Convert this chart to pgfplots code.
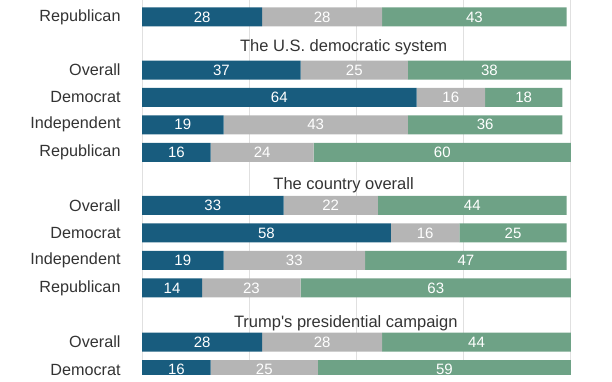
\documentclass[border=0pt]{standalone}
\usepackage{pgfplots}
\pgfplotsset{compat=1.18}
\usepackage{fontspec}
\setmainfont{Liberation Sans}
\definecolor{cblue}{HTML}{185C7E}
\definecolor{cgray}{HTML}{B5B5B5}
\definecolor{cgreen}{HTML}{6EA286}
\definecolor{gridgray}{HTML}{E0E0E0}
\definecolor{txt}{HTML}{333333}
\pgfplotsset{base/.style={
  scale only axis, width=612pt, height=374pt,
  xmin=-33.1, xmax=109.56, ymin=0, ymax=374, y dir=reverse,
  clip bounding box=upper bound,
  axis line style={draw=none},
  major tick length=0pt,
}}
\begin{document}
\begin{tikzpicture}
\begin{axis}[base,
  xbar stacked, bar width=19,
  xtick={0,25,50,75,100}, xticklabels={},
  ytick={16.5,69.7,96.9,124.4,152.0,205.0,232.5,260.0,287.5,341.8,369.3},
  yticklabels={Republican,Overall,Democrat,Independent,Republican,Overall,Democrat,Independent,Republican,Overall,Democrat},
  yticklabel style={anchor=east, xshift=124pt, font=\fontsize{16.2}{16.2}\selectfont, text=txt},
  xmajorgrids, major grid style={color=gridgray, line width=0.9pt},
]
\addplot[fill=cblue, draw=none] coordinates {
(28,16.5) (37,69.7) (64,96.9) (19,124.4) (16,152.0)
(33,205.0) (58,232.5) (19,260.0) (14,287.5) (28,341.8) (16,369.3)};
\addplot[fill=cgray, draw=none] coordinates {
(28,16.5) (25,69.7) (16,96.9) (43,124.4) (24,152.0)
(22,205.0) (16,232.5) (33,260.0) (23,287.5) (28,341.8) (25,369.3)};
\addplot[fill=cgreen, draw=none] coordinates {
(43,16.5) (38,69.7) (18,96.9) (36,124.4) (60,152.0)
(44,205.0) (25,232.5) (47,260.0) (63,287.5) (44,341.8) (59,369.3)};
\node[text=txt, font=\fontsize{16.5}{16.5}\selectfont] at (axis cs:47,47) {The U.S. democratic system};
\node[text=txt, font=\fontsize{16.5}{16.5}\selectfont] at (axis cs:47,184.5) {The country overall};
\node[text=txt, font=\fontsize{16.5}{16.5}\selectfont] at (axis cs:47.5,322.5) {Trump\textquotesingle s presidential campaign};
\end{axis}
\begin{axis}[base, xtick=\empty, ytick=\empty]
\addplot[only marks, mark=none, nodes near coords, point meta=explicit symbolic,
  every node near coord/.append style={anchor=center, text=white, font=\fontsize{15}{15}\selectfont}]
coordinates {
(14,16.5)[28] (42,16.5)[28] (77.5,16.5)[43]
(18.5,69.7)[37] (49.5,69.7)[25] (81,69.7)[38]
(32,96.9)[64] (72,96.9)[16] (89,96.9)[18]
(9.5,124.4)[19] (40.5,124.4)[43] (80,124.4)[36]
(8,152.0)[16] (28,152.0)[24] (70,152.0)[60]
(16.5,205.0)[33] (44,205.0)[22] (77,205.0)[44]
(29,232.5)[58] (66,232.5)[16] (86.5,232.5)[25]
(9.5,260.0)[19] (35.5,260.0)[33] (75.5,260.0)[47]
(7,287.5)[14] (25.5,287.5)[23] (68.5,287.5)[63]
(14,341.8)[28] (42,341.8)[28] (78,341.8)[44]
(8,369.3)[16] (28.5,369.3)[25] (70.5,369.3)[59]
};
\end{axis}
\end{tikzpicture}
\end{document}
